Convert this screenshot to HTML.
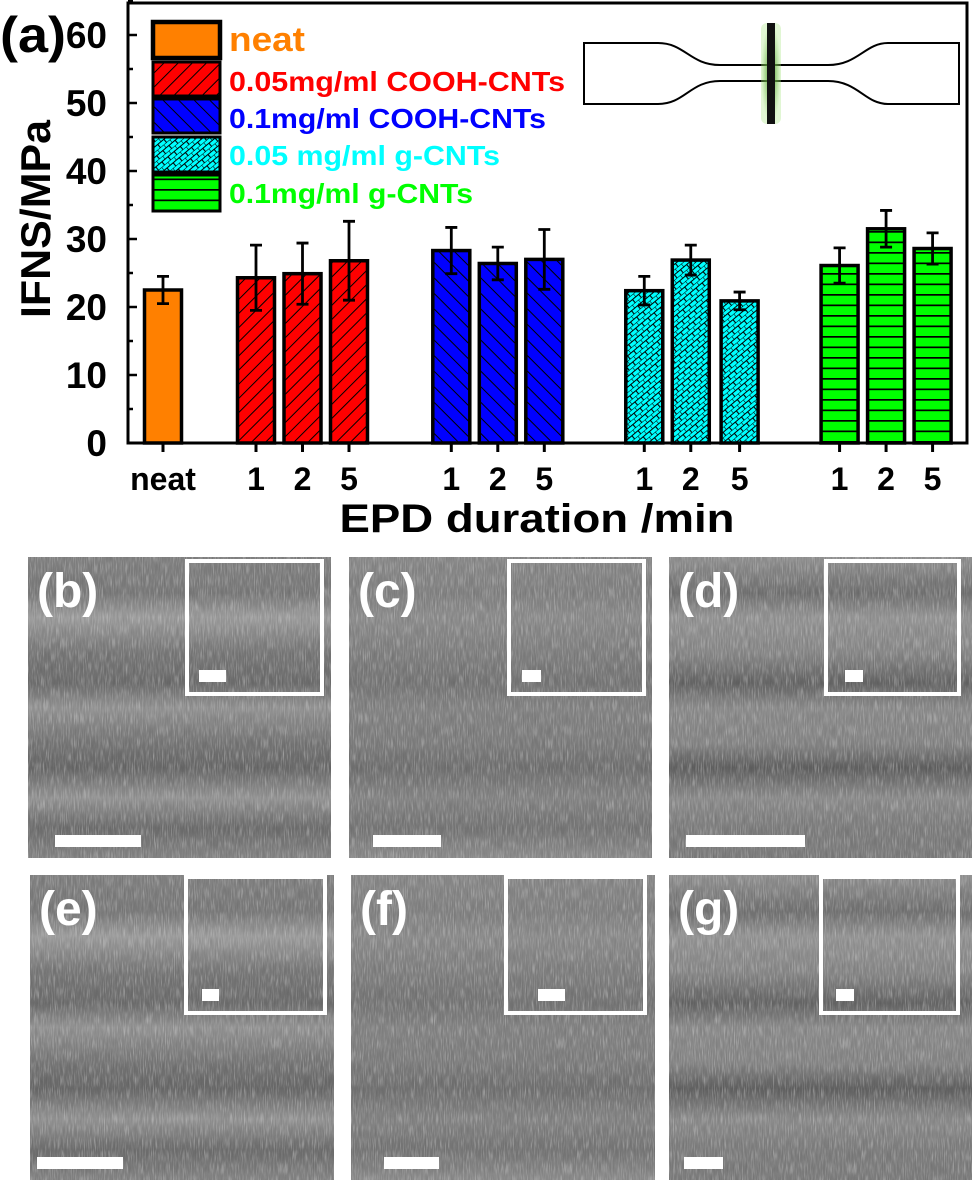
<!DOCTYPE html>
<html><head><meta charset="utf-8"><style>
html,body{margin:0;padding:0;background:#fff;}
svg{display:block;font-family:"Liberation Sans",Arial,sans-serif;font-weight:bold;}
</style></head><body>
<svg id="fig" width="975" height="1185" viewBox="0 0 975 1185" xmlns="http://www.w3.org/2000/svg">
<defs>
  <pattern id="pRed" patternUnits="userSpaceOnUse" width="10" height="10" patternTransform="rotate(45)">
    <rect width="10" height="10" fill="#ff0000"/><line x1="0" y1="0" x2="0" y2="10" stroke="#000" stroke-width="2"/>
  </pattern>
  <pattern id="pBlue" patternUnits="userSpaceOnUse" width="11" height="11" patternTransform="rotate(-45)">
    <rect width="11" height="11" fill="#0000ff"/><line x1="0" y1="0" x2="0" y2="11" stroke="#000" stroke-width="2"/>
  </pattern>
  <pattern id="pCyan" patternUnits="userSpaceOnUse" width="8" height="8" patternTransform="rotate(-40)">
    <rect width="8" height="8" fill="#00ffff"/><path d="M0 0H8M0 4H8M0 0V4M4 4V8" stroke="#000" stroke-width="1.1" fill="none"/>
  </pattern>
  <pattern id="pGreen" patternUnits="userSpaceOnUse" width="10" height="10.5">
    <rect width="10" height="10.5" fill="#00ff00"/><line x1="0" y1="0.8" x2="10" y2="0.8" stroke="#000" stroke-width="1.8"/>
  </pattern>
  <filter id="noise" x="0" y="0" width="100%" height="100%">
    <feTurbulence type="fractalNoise" baseFrequency="0.9 0.08" numOctaves="2" seed="3" result="t"/>
    <feColorMatrix type="saturate" values="0" in="t" result="g"/>
    <feComponentTransfer in="g" result="g2"><feFuncA type="linear" slope="0" intercept="0.35"/></feComponentTransfer>
    <feBlend in="SourceGraphic" in2="g2" mode="overlay"/>
  </filter>
  <radialGradient id="glow"><stop offset="0" stop-color="#3c8c1c"/><stop offset="1" stop-color="#9be36e" stop-opacity="0.3"/></radialGradient>
</defs>
<g id="chart"></g>
<g id="sem"></g>
</svg>
<script>
const categories = ["neat","1","2","5","1","2","5","1","2","5","1","2","5"];
const slots = [0,2,3,4,6.2,7.2,8.2,10.35,11.35,12.4,14.55,15.55,16.55];
const groups = [0,1,1,1,2,2,2,3,3,3,4,4,4];
const values = [22.5,24.3,24.9,26.8,28.3,26.4,27.0,22.4,26.9,20.9,26.1,31.5,28.6];
const errors = [2.0,4.8,4.5,5.8,3.4,2.4,4.4,2.1,2.2,1.3,2.6,2.7,2.3];
const yTicks = [0,10,20,30,40,50,60];
const seriesNames = ["neat","0.05mg/ml COOH-CNTs","0.1mg/ml COOH-CNTs","0.05 mg/ml g-CNTs","0.1mg/ml g-CNTs"];

const NS="http://www.w3.org/2000/svg";
function mk(tag, attrs, parent){const e=document.createElementNS(NS,tag);for(const k in attrs)e.setAttribute(k,attrs[k]);parent.appendChild(e);return e;}
const fills=["#ff8000","url(#pRed)","url(#pBlue)","url(#pCyan)","url(#pGreen)"];
const X0=128,X1=967,Y0=443,YT=3;
const yS=v=>Y0-v*6.8;
const xS=s=>163+s*46.5;
const chart=document.getElementById('chart');

for(let i=0;i<values.length;i++){
  const cx=xS(slots[i]),w=37,top=yS(values[i]);
  const b=mk('rect',{x:cx-w/2,y:top,width:w,height:Y0-top,fill:fills[groups[i]],stroke:'#000','stroke-width':3.5},chart);
  
  
  const hi=yS(values[i]+errors[i]),lo=yS(values[i]-errors[i]);
  const eb=mk('path',{d:`M${cx} ${hi}V${lo}M${cx-6} ${hi}H${cx+6}M${cx-6} ${lo}H${cx+6}`,stroke:'#000','stroke-width':2.8,fill:'none'},chart);
  
  
  const tk=mk('line',{x1:cx,y1:Y0,x2:cx,y2:Y0+9,stroke:'#000','stroke-width':3},chart);
  
  
  const tl=mk('text',{x:cx,y:490,'font-size':32,'text-anchor':'middle',fill:'#000'},chart);
  tl.textContent=categories[i];
  
  
}
const fr=mk('path',{d:`M${X0} ${YT}H${X1}V${Y0}H${X0}Z`,fill:'none',stroke:'#000','stroke-width':3},chart);


for(let v=0;v<=65;v+=5){
  const y=yS(v),maj=v%10===0;
  const t=mk('line',{x1:X0,y1:y,x2:X0+(maj?9:5),y2:y,stroke:'#000','stroke-width':2.5},chart);
  
  
}
yTicks.forEach(v=>{
  const t=mk('text',{x:107,y:yS(v)+13,'font-size':37,'text-anchor':'end',fill:'#000'},chart);
  t.textContent=v;
  
  
});
</script>
<script>
(function(){
const chart=document.getElementById('chart');
const NS="http://www.w3.org/2000/svg";
function mk(tag, attrs, parent){const e=document.createElementNS(NS,tag);for(const k in attrs)e.setAttribute(k,attrs[k]);parent.appendChild(e);return e;}
const fills=["#ff8000","url(#pRed)","url(#pBlue)","url(#pCyan)","url(#pGreen)"];
const txtCol=["#ff8000","#ff0000","#0000ff","#00ffff","#00ff00"];
const boxes=[[22,58],[62,96],[99,133],[137,172],[175,211]];
const base=[51,91,128,165,203];
const lens=[76,336,317,271,244];
const sizes=[34,28,28,28,28];
for(let i=0;i<5;i++){
  const r=mk('rect',{x:153,y:boxes[i][0],width:67,height:boxes[i][1]-boxes[i][0],fill:fills[i],stroke:'#000','stroke-width':i===0?4.5:3},chart);
  
  
  const t=mk('text',{x:229,y:base[i],'font-size':sizes[i],fill:txtCol[i],textLength:lens[i],lengthAdjust:'spacingAndGlyphs'},chart);
  t.textContent=seriesNames[i];
  
  
}
const a=mk('text',{x:0,y:52,'font-size':50,fill:'#000',textLength:66,lengthAdjust:'spacingAndGlyphs'},chart);a.textContent='(a)';


const yt=mk('text',{x:0,y:0,'font-size':42,'text-anchor':'middle',fill:'#000',transform:'translate(50 219) rotate(-90)',textLength:198,lengthAdjust:'spacingAndGlyphs'},chart);yt.textContent='IFNS/MPa';


const xt=mk('text',{x:537,y:532,'font-size':40,'text-anchor':'middle',fill:'#000',textLength:395,lengthAdjust:'spacingAndGlyphs'},chart);xt.textContent='EPD duration /min';


const db=mk('path',{d:'M584 43H658C685 43 690 65 720 65H828C858 65 865 43 888 43H959V104H888C865 104 858 81 828 81H720C690 81 685 104 658 104H584Z',fill:'#fff',stroke:'#000','stroke-width':2},chart);


const gl=mk('rect',{x:761,y:23,width:20,height:101,fill:'url(#glow)',rx:6},chart);


const fb=mk('rect',{x:767,y:23,width:8,height:101,fill:'#111'},chart);



const sem=document.getElementById('sem');
const panels=[
 {l:'(b)',x:28,y:557,w:303,h:301,ix:187,iy:561,iw:135,ih:133,sb:[55,141],ib:[199,226]},
 {l:'(c)',x:349,y:557,w:303,h:301,ix:509,iy:561,iw:135,ih:133,sb:[373,441],ib:[522,541]},
 {l:'(d)',x:669,y:557,w:303,h:301,ix:826,iy:561,iw:133,ih:133,sb:[686,805],ib:[845,863]},
 {l:'(e)',x:30,y:875,w:304,h:305,ix:186,iy:877,iw:139,ih:136,sb:[37,123],ib:[202,219]},
 {l:'(f)',x:351,y:875,w:304,h:305,ix:506,iy:877,iw:139,ih:136,sb:[384,439],ib:[538,565]},
 {l:'(g)',x:669,y:875,w:303,h:305,ix:821,iy:877,iw:137,ih:136,sb:[684,723],ib:[836,854]}
];
panels.forEach((p,k)=>{
  const g=mk('g',{},sem);
  
  
  const gid='sg'+k;
  const lg=mk('linearGradient',{id:gid,x1:0,y1:0,x2:0,y2:1},g);
  const st=[[0,'#8a8a8a'],[.12,'#7a7a7a'],[.2,'#959595'],[.32,'#808080'],[.42,'#6e6e6e'],[.5,'#8c8c8c'],[.62,'#7e7e7e'],[.7,'#696969'],[.8,'#8d8d8d'],[.9,'#767676'],[1,'#858585']];
  st.forEach((s,j)=>{const ss=s[1];const sh=((j+k)%3-1)*8;const c=Math.max(0,Math.min(255,parseInt(ss.slice(1,3),16)+sh)).toString(16).padStart(2,'0');mk('stop',{offset:s[0],'stop-color':'#'+c+c+c},lg);});
  mk('rect',{x:p.x,y:p.y,width:p.w,height:p.h,fill:'url(#'+gid+')',filter:'url(#noise)'},g);
  const ib=mk('rect',{x:p.ix,y:p.iy,width:p.iw,height:p.ih,fill:'none',stroke:'#fff','stroke-width':4},g);
  
  
  const iy=p.iy+p.ih-24;
  const isb=mk('rect',{x:p.ib[0],y:iy,width:p.ib[1]-p.ib[0],height:12,fill:'#fff'},g);
  
  
  const sb=mk('rect',{x:p.sb[0],y:p.y+p.h-23,width:p.sb[1]-p.sb[0],height:12,fill:'#fff'},g);
  
  
  const t=mk('text',{x:p.x+9,y:p.y+50,'font-size':48,fill:'#fff'},g);
  t.textContent=p.l;
  
  
});
})();
</script>
</body></html>
